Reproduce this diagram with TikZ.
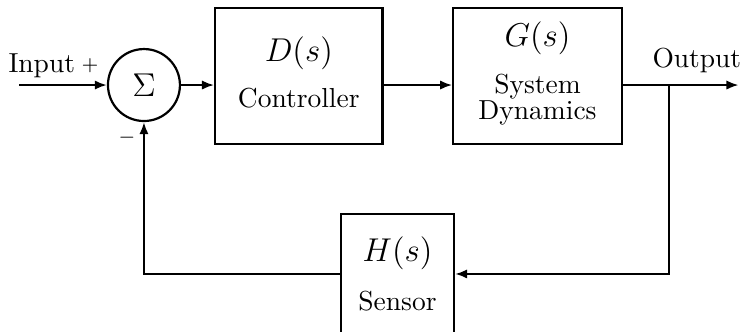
\documentclass[tikz,border=0pt]{standalone}
\usepackage{amsmath,amssymb}
\usepackage{xcolor}
\usetikzlibrary{shapes,arrows,positioning,calc,arrows.meta}

\newcommand{\tf}[1]{{\fontsize{13pt}{15pt}\selectfont $#1$}}

\tikzset{
    block/.style={draw, thick, align=center, inner sep=0pt},
    sumnode/.style={draw, thick, circle, minimum size=0.92cm, inner sep=0pt},
    signal/.style={thick, -{Latex[length=4.4pt,width=3.4pt]}}
}

\begin{document}
\begin{tikzpicture}
    % Frame of the picture
    \useasboundingbox (0,0) rectangle (9.484,-4.231);
    \clip (0,0) rectangle (9.484,-4.231);

    % Summing junction
    \node[sumnode] (sum) at (1.840,-1.087) {\large $\Sigma$};

    % Blocks
    \node[block, minimum width=2.138cm, minimum height=1.736cm] (ctrl) at (3.819,-0.974)
        {\tf{D(s)}\\[5pt] Controller\rule[-3pt]{0pt}{0pt}};
    \node[block, minimum width=2.152cm, minimum height=1.736cm] (plant) at (6.870,-0.972)
        {\tf{G(s)}\\[5pt] System\\[-2.5pt] Dynamics\rule[-4pt]{0pt}{0pt}};
    \node[block, minimum width=1.444cm, minimum height=1.53cm] (sensor) at (5.081,-3.502)
        {\tf{H(s)}\\[5.5pt] Sensor};

    % Free ends of the signal lines
    \coordinate (in) at (0.243,-1.087);
    \coordinate (out) at (9.440,-1.087);
    \coordinate (branch) at (8.551,-1.087);

    % Labels
    \node[anchor=base west, inner sep=0pt] (inlabel) at (0.102,-0.933) {Input};
    \node[inner sep=0pt, font=\scriptsize] (plus) at (1.150,-0.844) {$+$};
    \node[inner sep=0pt, font=\scriptsize] (minus) at (1.623,-1.764) {$-$};
    \node[anchor=base west, inner sep=0pt] (outlabel) at (8.333,-0.869) {Output};

    % Forward path
    \draw[signal] (in) -- (sum.west);
    \draw[signal] (sum.east) -- (sum.east -| ctrl.west);
    \draw[signal] (sum.east -| ctrl.east) -- (sum.east -| plant.west);
    \draw[signal] (sum.east -| plant.east) -- (out);

    % Feedback path
    \draw[signal] (branch) |- (sensor.east);
    \draw[signal] (sensor.west) -| (sum.south);
\end{tikzpicture}
\end{document}
